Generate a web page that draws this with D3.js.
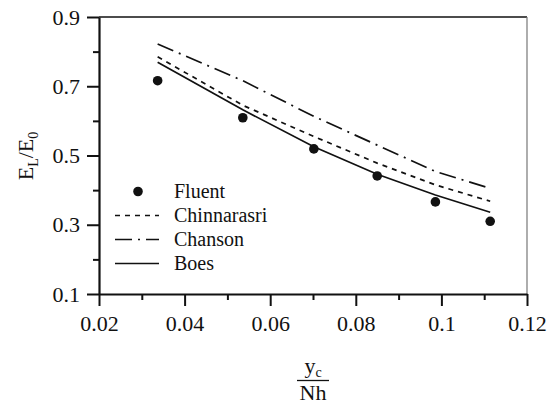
<!DOCTYPE html>
<html>
<head>
<meta charset="utf-8">
<script src="https://cdn.jsdelivr.net/npm/d3@7/dist/d3.min.js"></script>
<style>
  html, body { margin: 0; padding: 0; background: #fff; }
  svg { display: block; }
  svg text { font-family: "Liberation Serif", Tinos, "Times New Roman", Times, "DejaVu Serif", "Noto Serif", serif !important; fill: #111; }
</style>
</head>
<body>
<svg id="chart" width="551" height="405"></svg>
<script>
// Relative critical depth y_c/(Nh) for each simulated case
const xVals = [0.0337, 0.0536, 0.0702, 0.0850, 0.0986, 0.1114];
// Relative energy loss E_L/E_0
const fluent      = [0.716, 0.609, 0.519, 0.441, 0.366, 0.310];
const chinnarasri = [0.785, 0.645, 0.555, 0.478, 0.415, 0.368];
const chanson     = [0.822, 0.716, 0.613, 0.530, 0.454, 0.405];
const boes        = [0.769, 0.632, 0.525, 0.446, 0.386, 0.336];

const xTicks = [0.02, 0.04, 0.06, 0.08, 0.1, 0.12];
const xTickLabels = ["0.02", "0.04", "0.06", "0.08", "0.1", "0.12"];
const xMinor = [0.03, 0.05, 0.07, 0.09, 0.11];
const yTicks = [0.1, 0.3, 0.5, 0.7, 0.9];
const yTickLabels = ["0.1", "0.3", "0.5", "0.7", "0.9"];
const yMinor = [0.2, 0.4, 0.6, 0.8];

const seriesNames = ["Fluent", "Chinnarasri", "Chanson", "Boes"];

const SERIF = "'Liberation Serif', Tinos, 'Times New Roman', Times, 'DejaVu Serif', serif";

const svg = d3.select("#chart");
const L = 99, R = 527, T = 17, B = 294;

const x = d3.scaleLinear().domain([0.02, 0.12]).range([L, R]);
const y = d3.scaleLinear().domain([0.1, 0.9]).range([B, T]);

// frame: thin top and right edges
svg.append("line").attr("x1", L).attr("x2", R).attr("y1", T).attr("y2", T)
  .attr("stroke", "#111").attr("stroke-width", 1.4);
svg.append("line").attr("x1", R).attr("x2", R).attr("y1", T).attr("y2", B)
  .attr("stroke", "#777").attr("stroke-width", 1.2);

// minor ticks
svg.append("g").attr("transform", `translate(${L},0)`)
  .call(d3.axisLeft(y).tickValues(yMinor).tickSize(6).tickFormat(""))
  .call(g => g.select(".domain").remove())
  .call(g => g.selectAll("line").attr("stroke", "#111").attr("stroke-width", 2));
svg.append("g").attr("transform", `translate(0,${B})`)
  .call(d3.axisBottom(x).tickValues(xMinor).tickSize(6).tickFormat(""))
  .call(g => g.select(".domain").remove())
  .call(g => g.selectAll("line").attr("stroke", "#111").attr("stroke-width", 2));

// major axes
const yAxis = svg.append("g").attr("transform", `translate(${L},0)`)
  .call(d3.axisLeft(y).tickValues(yTicks).tickSize(12).tickSizeOuter(0).tickPadding(7)
    .tickFormat((d, i) => yTickLabels[i]));
const xAxis = svg.append("g").attr("transform", `translate(0,${B})`)
  .call(d3.axisBottom(x).tickValues(xTicks).tickSize(12).tickSizeOuter(0).tickPadding(9)
    .tickFormat((d, i) => xTickLabels[i]));
[yAxis, xAxis].forEach(g => {
  g.attr("font-family", SERIF);
  g.select(".domain").attr("stroke", "#111").attr("stroke-width", 2.2);
  g.selectAll(".tick line").attr("stroke", "#111").attr("stroke-width", 2);
  g.selectAll(".tick text").attr("font-size", 22)
    .attr("font-family", SERIF).attr("fill", "#111");
});

// model curves
const lineGen = d3.line().x((d, i) => x(xVals[i])).y(d => y(d));
const styles = {
  Chinnarasri: { data: chinnarasri, dash: "5,5" },
  Chanson: { data: chanson, dash: "17,6,2,6" },
  Boes: { data: boes, dash: null }
};
Object.entries(styles).forEach(([name, s]) => {
  svg.append("path").datum(s.data)
    .attr("d", lineGen)
    .attr("fill", "none")
    .attr("stroke", "#111")
    .attr("stroke-width", 1.7)
    .attr("stroke-dasharray", s.dash);
});

// CFD points
svg.append("g").selectAll("circle").data(fluent).join("circle")
  .attr("cx", (d, i) => x(xVals[i]))
  .attr("cy", d => y(d))
  .attr("r", 4.8)
  .attr("fill", "#111");

// legend
const legend = svg.append("g").attr("font-family", SERIF);
seriesNames.forEach((name, i) => {
  const base = 198 + i * 24;
  const mid = base - 6.5;
  if (name === "Fluent") {
    legend.append("circle").attr("cx", 138).attr("cy", mid).attr("r", 4.8).attr("fill", "#111");
  } else {
    legend.append("line").attr("x1", 115).attr("x2", 159).attr("y1", mid).attr("y2", mid)
      .attr("stroke", "#111").attr("stroke-width", 1.7)
      .attr("stroke-dasharray", styles[name].dash);
  }
  legend.append("text").attr("x", 174).attr("y", base)
    .attr("font-size", 20).attr("font-family", SERIF).text(name);
});

// y-axis title E_L/E_0
const yTitle = svg.append("text")
  .attr("transform", "translate(33,156) rotate(-90)")
  .attr("text-anchor", "middle")
  .attr("font-family", SERIF)
  .attr("font-size", 22);
yTitle.append("tspan").text("E");
yTitle.append("tspan").attr("font-size", 14).attr("dy", 5).text("L");
yTitle.append("tspan").attr("dy", -5).text("/E");
yTitle.append("tspan").attr("font-size", 14).attr("dy", 5).text("0");

// x-axis title as a fraction y_c / Nh
const cx = 313;
const num = svg.append("text").attr("x", cx).attr("y", 373)
  .attr("text-anchor", "middle").attr("font-family", SERIF).attr("font-size", 22);
num.append("tspan").text("y");
num.append("tspan").attr("font-size", 14).attr("dy", 4).text("c");
svg.append("line").attr("x1", 297).attr("x2", 329).attr("y1", 380.5).attr("y2", 380.5)
  .attr("stroke", "#111").attr("stroke-width", 1.3);
svg.append("text").attr("x", cx).attr("y", 400)
  .attr("text-anchor", "middle").attr("font-family", SERIF).attr("font-size", 22).text("Nh");
</script>
</body>
</html>
